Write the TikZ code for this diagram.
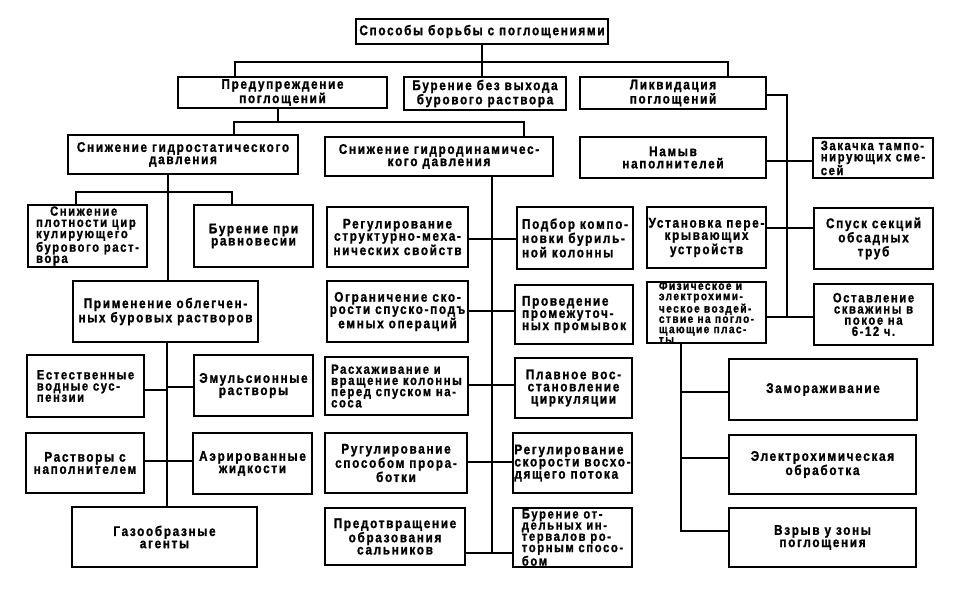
\documentclass[tikz,border=0pt]{standalone}
\usepackage{fontspec}
\setmainfont[LetterSpace=12,FakeStretch=0.84,FakeBold=1.2]{Liberation Sans}
\usetikzlibrary{fit}
\tikzset{
  bx/.style={draw, line width=2.6pt, inner sep=0pt, fill=white},
  ln/.style={line width=2.6pt},
  lb/.style={font=\bfseries\fontsize{14}{12.2}\selectfont, align=center, inner sep=0pt},
  tight/.style={font=\bfseries\fontsize{13.4}{11.2}\selectfont},
  tighter/.style={font=\bfseries\fontsize{12}{10.3}\selectfont},
}
\newcommand\Bx[5]{\node[bx, fit={(#2)(#3)}, label={[lb,#4]center:{#5}}] (#1) {};}
\begin{document}
\begin{tikzpicture}[x=1pt,y=-1pt]
\useasboundingbox[fill=white] (0,0) rectangle (960,589);
\Bx{t}{356,19}{608,44}{}{Способы борьбы с поглощениями}
\Bx{pred}{178,77}{387,108}{}{Предупреждение\\поглощений}
\Bx{bbv}{404,77}{566,110}{}{Бурение без выхода\\бурового раствора}
\Bx{likv}{580,77}{766,109}{}{Ликвидация\\поглощений}
\Bx{gs}{68,135}{298,174}{}{Снижение гидростатического\\давления}
\Bx{gd}{325,137}{553,176}{}{Снижение гидродинамичес-\\кого давления}
\Bx{nam}{580,137}{766,178}{}{Намыв\\наполнителей}
\Bx{zak}{813,138}{933,178}{align=left,tight}{Закачка тампо-\\нирующих сме-\\сей}
\Bx{snp}{28,205}{147,267}{align=left,tight}{\hspace*{14pt}Снижение\\плотности цир\\кулирующего\\бурового раст-\\вора}
\Bx{bpr}{194,205}{313,267}{}{Бурение при\\равновесии}
\Bx{prim}{73,281}{258,342}{}{Применение облегчен-\\ных буровых растворов}
\Bx{est}{27,355}{144,417}{align=left,tight}{Естественные\\водные сус-\\пензии}
\Bx{emu}{194,355}{313,416}{}{Эмульсионные\\растворы}
\Bx{rsn}{26,433}{144,493}{}{Растворы с\\наполнителем}
\Bx{aer}{193,433}{312,494}{}{Аэрированные\\жидкости}
\Bx{gaz}{72,507}{257,567}{}{Газообразные\\агенты}
\Bx{rsm}{327,207}{468,267}{}{Регулирование\\структурно-меха-\\нических свойств}
\Bx{pod}{517,207}{633,269}{align=left}{Подбор компо-\\новки буриль-\\ной колонны}
\Bx{ogr}{327,281}{468,342}{}{Ограничение ско-\\рости спуско-подъ\\емных операций}
\Bx{prov}{515,285}{633,344}{align=left}{Проведение\\промежуточ-\\ных промывок}
\Bx{rash}{325,357}{468,415}{align=left,tight}{Расхаживание и\\вращение колонны\\перед спуском на-\\соса}
\Bx{plav}{515,358}{632,418}{}{Плавное вос-\\становление\\циркуляции}
\Bx{rug}{325,433}{467,493}{}{Ругулирование\\способом прора-\\ботки}
\Bx{rsk}{513,433}{632,493}{align=left}{Регулирование\\скорости восхо-\\дящего потока}
\Bx{prd}{325,508}{465,565}{}{Предотвращение\\образования\\сальников}
\Bx{bot}{513,508}{632,567}{align=left,tight}{Бурение от-\\дельных ин-\\тервалов ро-\\торным спосо-\\бом}
\Bx{ust}{647,207}{766,268}{}{Установка пере-\\крывающих\\устройств}
\Bx{spu}{814,208}{933,269}{}{Спуск секций\\обсадных\\труб}
\Bx{fiz}{647,282}{766,343}{align=left,tighter}{Физическое и\\электрохими-\\ческое воздей-\\ствие на погло-\\щающие плас-\\ты}
\Bx{ost}{814,284}{933,345}{tight}{Оставление\\скважины в\\покое на\\6-12 ч.}
\Bx{zam}{729,359}{917,420}{}{Замораживание}
\Bx{ele}{729,435}{916,494}{}{Электрохимическая\\обработка}
\Bx{vzr}{729,508}{916,567}{}{Взрыв у зоны\\поглощения}
% top level
\coordinate (j1) at (235,62); \coordinate (j2) at (728,62);
\draw[ln] (t.south) -- (t.south |- bbv.north);
\draw[ln] (pred.north -| j1) |- (j2) -- (likv.north -| j2);
% prevention
\coordinate (j3) at (278,122); \coordinate (j4) at (234,122); \coordinate (j5) at (524,122);
\draw[ln] (pred.south -| j3) -- (j3);
\draw[ln] (gs.north -| j4) |- (j5) -- (gd.north -| j5);
% liquidation
\coordinate (j6) at (787,95); \coordinate (j7) at (787,317);
\coordinate (y161) at (0,161); \coordinate (y228) at (0,228);
\draw[ln] (likv.east |- j6) -- (j6) -- (j7);
\draw[ln] (nam.east |- y161) -- (zak.west |- y161);
\draw[ln] (ust.east |- y228) -- (spu.west |- y228);
\draw[ln] (fiz.east |- j7) -- (ost.west |- j7);
% hydrostatic
\coordinate (k1) at (168,192); \coordinate (k2) at (76,192); \coordinate (k3) at (232,192);
\draw[ln] (gs.south -| k1) -- (prim.north -| k1);
\draw[ln] (snp.north -| k2) |- (k3) -- (bpr.north -| k3);
% light muds
\coordinate (m0) at (167,0);
\coordinate (m1) at (167,390); \coordinate (m2) at (167,387); \coordinate (m3) at (167,461);
\draw[ln] (prim.south -| m0) -- (gaz.north -| m0);
\draw[ln] (est.east |- m1) -- (m1);
\draw[ln] (m2) -- (emu.west |- m2);
\draw[ln] (rsn.east |- m3) -- (aer.west |- m3);
% hydrodynamic
\coordinate (g0) at (492,553);
\coordinate (g1) at (492,239); \coordinate (g2) at (492,311); \coordinate (g3) at (492,385); \coordinate (g4) at (492,462);
\draw[ln] (gd.south -| g0) -- (g0);
\draw[ln] (rsm.east |- g1) -- (pod.west |- g1);
\draw[ln] (ogr.east |- g2) -- (prov.west |- g2);
\draw[ln] (rash.east |- g3) -- (plav.west |- g3);
\draw[ln] (rug.east |- g4) -- (rsk.west |- g4);
\draw[ln] (prd.east |- g0) -- (bot.west |- g0);
% physical
\coordinate (f0) at (681,531); \coordinate (f1) at (681,392); \coordinate (f2) at (681,458);
\draw[ln] (fiz.south -| f0) -- (f0) -- (vzr.west |- f0);
\draw[ln] (f1) -- (zam.west |- f1);
\draw[ln] (f2) -- (ele.west |- f2);
\end{tikzpicture}
\end{document}
